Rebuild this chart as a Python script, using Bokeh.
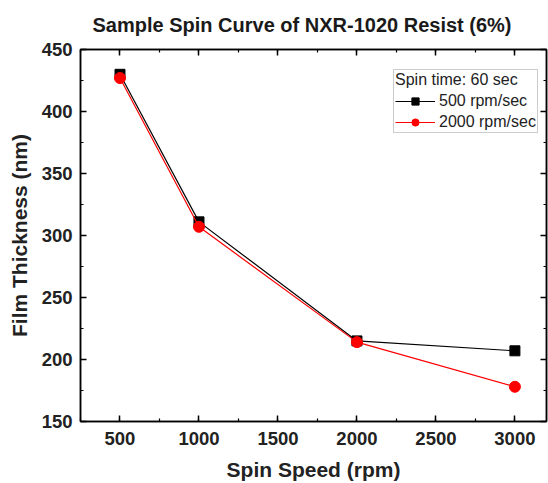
from bokeh.plotting import figure
from bokeh.models import LinearAxis, SingleIntervalTicker, Range1d, Legend, LegendItem, CustomJSTickFormatter
from bokeh.embed import file_html
from bokeh.resources import INLINE

spin_speed = [500, 1000, 2000, 3000]
thickness_500 = [430, 311, 215, 207]
thickness_2000 = [427, 307, 214, 178]
series_labels = ["500 rpm/sec", "2000 rpm/sec"]
legend_title = "Spin time: 60 sec"
chart_title = "Sample Spin Curve of NXR-1020 Resist (6%)"

FONT = "Liberation Sans"

p = figure(width=548, height=483, output_backend="svg", toolbar_location=None,
           x_range=Range1d(250, 3200), y_range=Range1d(150, 450),
           min_border_left=80, min_border_right=2, min_border_top=49, min_border_bottom=10,
           title=chart_title)

p.title.text_font = FONT
p.title.text_font_size = "20px"
p.title.text_font_style = "bold"
p.title.text_color = "#1a1a1a"
p.title.align = "left"
p.title.offset = 12
p.title.vertical_align = "top"
p.title.standoff = 23

p.xgrid.visible = False
p.ygrid.visible = False
p.outline_line_color = "black"
p.outline_line_width = 1.5

xt = SingleIntervalTicker(interval=500, num_minor_ticks=2)
yt = SingleIntervalTicker(interval=50, num_minor_ticks=2)

def style_axis(ax, labels=True):
    ax.major_tick_in = 6
    ax.major_tick_out = 0
    ax.minor_tick_in = 3
    ax.minor_tick_out = 0
    ax.axis_line_color = "black"
    ax.axis_line_width = 1.5
    ax.major_tick_line_width = 1.5
    ax.minor_tick_line_width = 1.2
    if labels:
        ax.major_label_text_font = FONT
        ax.major_label_text_font_size = "18.5px"
        ax.major_label_text_font_style = "bold"
        ax.major_label_text_color = "#222222"
        ax.axis_label_text_font = FONT
        ax.axis_label_text_font_size = "21px"
        ax.axis_label_text_font_style = "bold"
        ax.axis_label_text_color = "#222222"
    else:
        ax.formatter = CustomJSTickFormatter(code="return ''")
        ax.major_label_standoff = 0

p.xaxis.ticker = xt
p.yaxis.ticker = yt
style_axis(p.xaxis[0])
style_axis(p.yaxis[0])
p.xaxis.axis_label = "Spin Speed (rpm)"
p.yaxis.axis_label = "Film Thickness (nm)"
p.xaxis.major_label_standoff = 10
p.xaxis.axis_label_standoff = 10
p.yaxis.major_label_standoff = 8
p.yaxis.axis_label_standoff = 8

top = LinearAxis(ticker=SingleIntervalTicker(interval=500, num_minor_ticks=2))
style_axis(top, labels=False)
p.add_layout(top, "above")
right = LinearAxis(ticker=SingleIntervalTicker(interval=50, num_minor_ticks=2))
style_axis(right, labels=False)
p.add_layout(right, "right")

l1 = p.line(spin_speed, thickness_500, line_color="black", line_width=1.2)
s1 = p.scatter(spin_speed, thickness_500, marker="square", size=10, fill_color="black", line_color="black")
l2 = p.line(spin_speed, thickness_2000, line_color="#ff0000", line_width=1.2)
s2 = p.scatter(spin_speed, thickness_2000, marker="circle", size=11, fill_color="#ff0000", line_color="#ff0000")

legend = Legend(items=[LegendItem(label=series_labels[0], renderers=[l1, s1]),
                       LegendItem(label=series_labels[1], renderers=[l2, s2])],
                title=legend_title, location=(313, 288))
legend.title_text_font = FONT
legend.title_text_font_size = "16px"
legend.title_text_font_style = "normal"
legend.title_text_color = "#222222"
legend.title_standoff = 3
legend.label_text_font = FONT
legend.label_text_font_size = "16px"
legend.label_text_color = "#222222"
legend.glyph_width = 40
legend.glyph_height = 18
legend.label_height = 18
legend.label_standoff = 4
legend.spacing = 3
legend.padding = 1
legend.margin = 0
legend.border_line_color = "#999999"
legend.border_line_width = 1
legend.background_fill_color = "white"
legend.background_fill_alpha = 1
p.add_layout(legend, "center")

open("out.html", "w").write(file_html(p, INLINE))
